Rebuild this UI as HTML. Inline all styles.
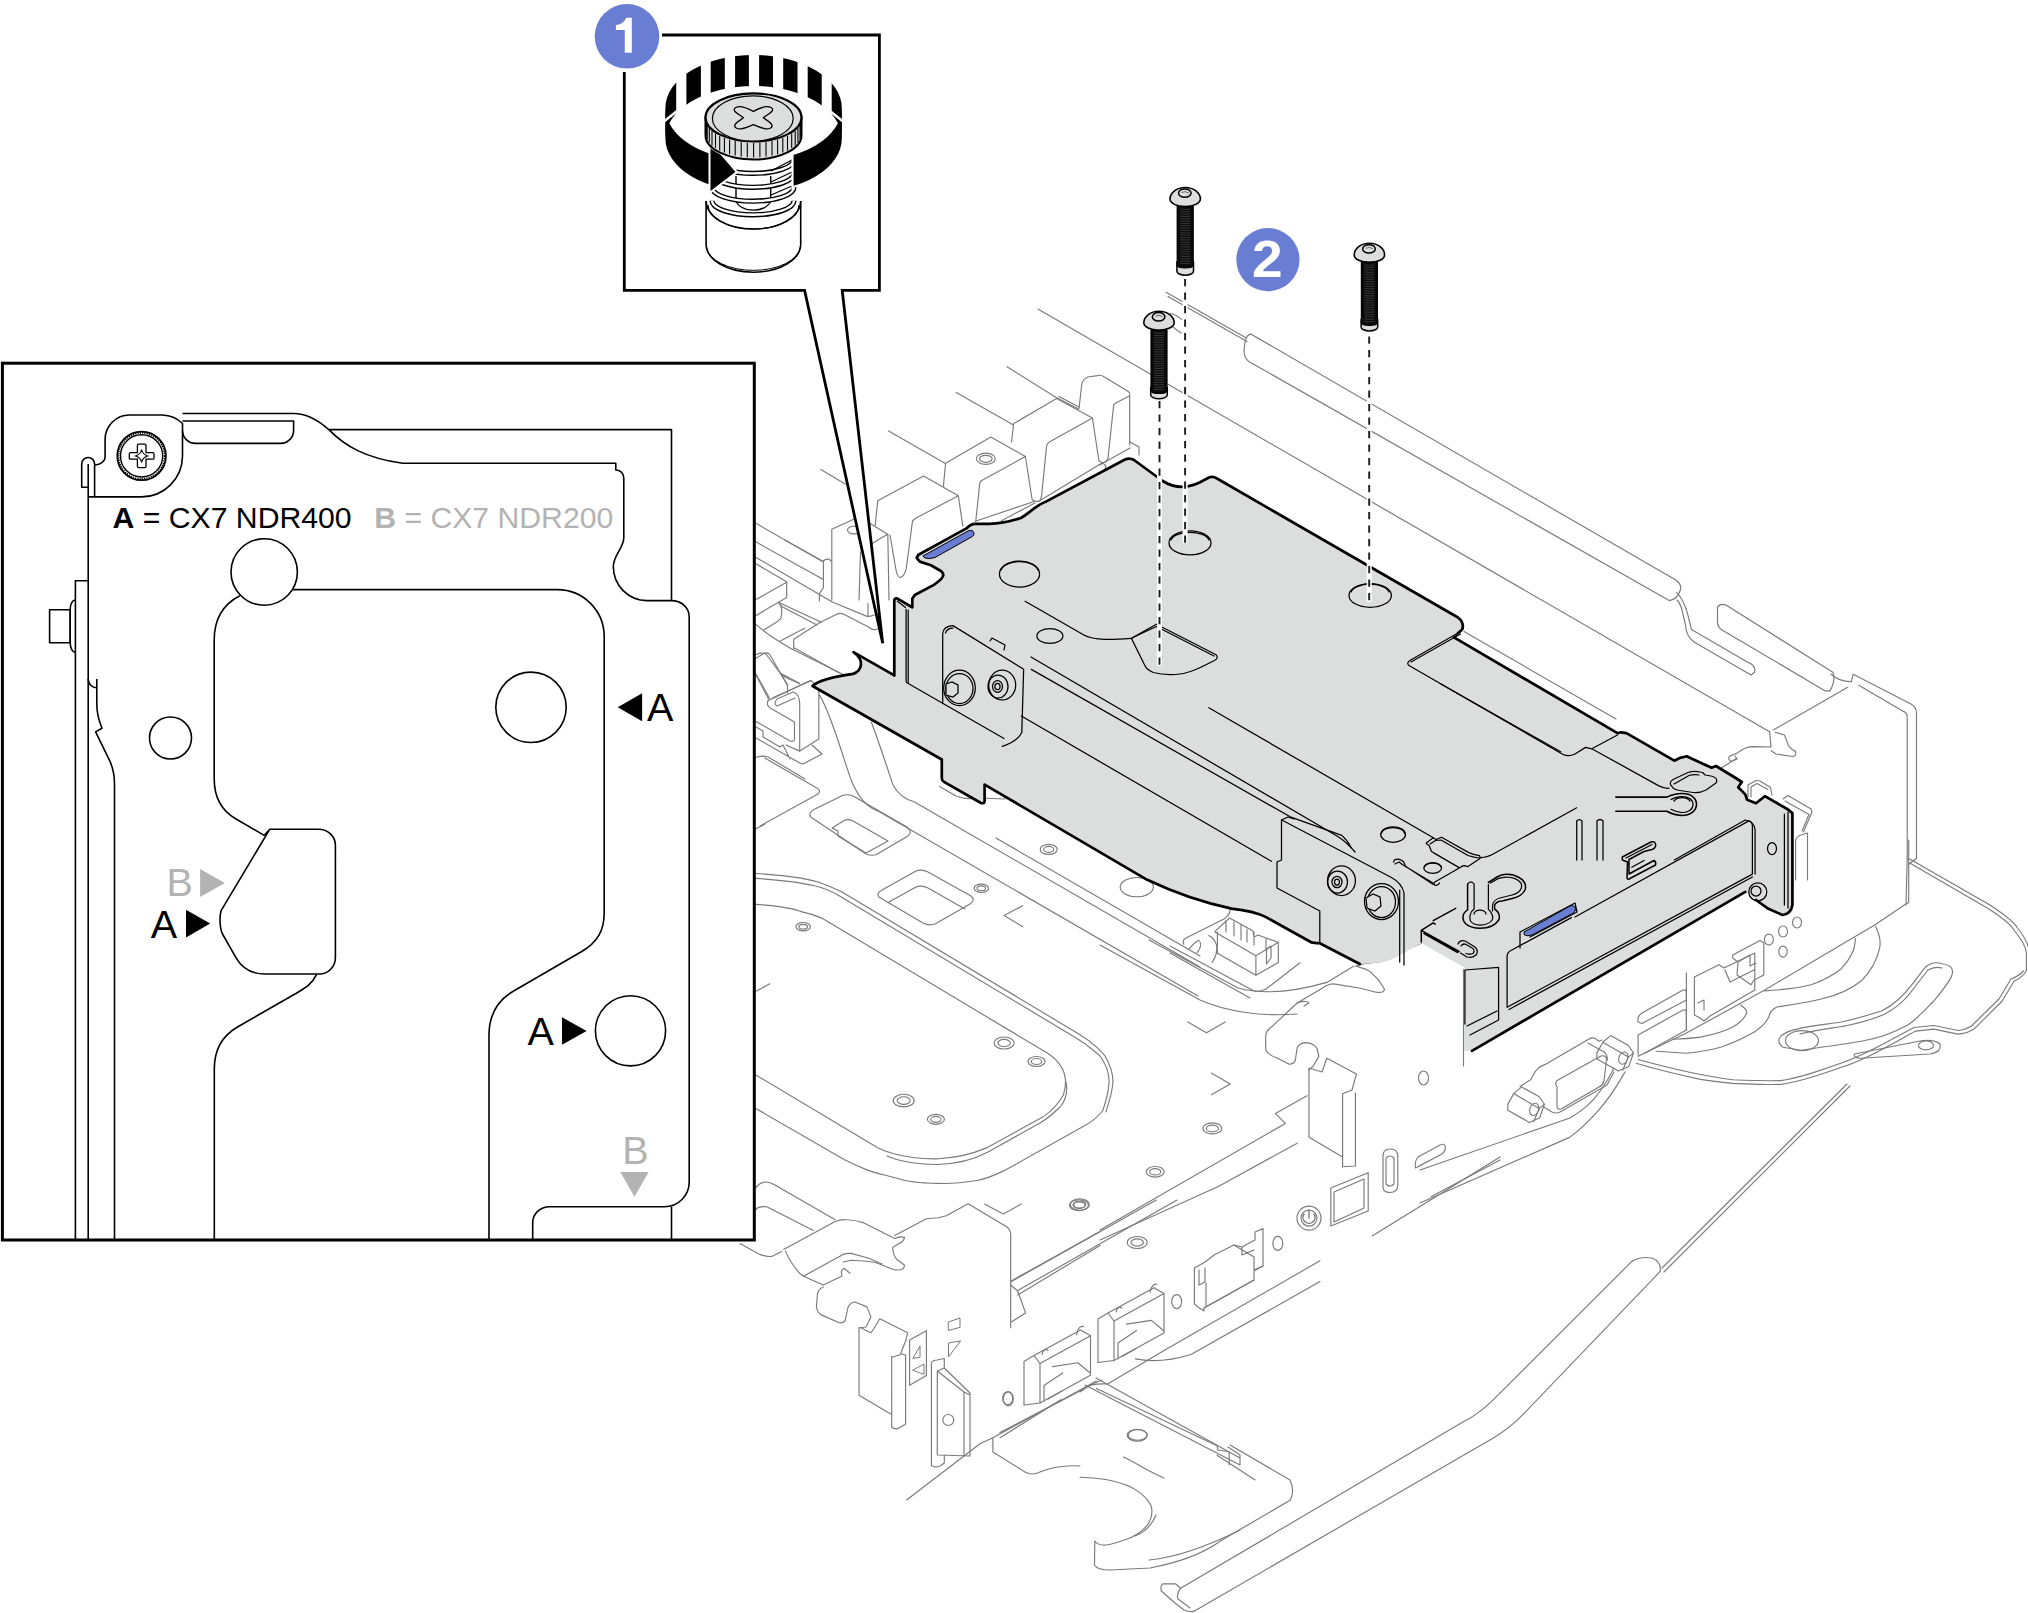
<!DOCTYPE html>
<html><head><meta charset="utf-8">
<style>
html,body{margin:0;padding:0;background:#fff;}
body{width:2028px;height:1613px;overflow:hidden;}
svg{display:block;}
text{font-family:"Liberation Sans",sans-serif;}
</style></head>
<body>
<svg width="2028" height="1613" viewBox="0 0 2028 1613" xmlns="http://www.w3.org/2000/svg">
<rect x="0" y="0" width="2028" height="1613" fill="#fff"/>
<g id="chassis" fill="none" stroke="#7a7a7a" stroke-width="1.15" stroke-linejoin="round" stroke-linecap="round">
<!-- long top lines -->
<path d="M1037.9 309.1 L1769.6 731.7"/>
<path d="M1166.1 292.3 L1246.3 337.9 M1168 296.5 L1247 341.5"/>
<path d="M1251.2 334.2 L1676.6 580.5 Q1682 585 1680.3 590 Q1678 599 1669.2 600.6 L1248.7 361.4 Q1244 358 1244 350 L1245 342 Q1247 334 1251.2 334.2"/>
<path d="M1676.6 592.4 Q1684 600 1687.8 614.7 L1691.5 629.6 L1747.3 662 Q1756 665 1754.7 672 L1751 675 L1694 642 Q1686 636 1685.5 625 L1682 610 Q1680 603 1677 600"/>
<path d="M1717.5 607.3 Q1720 603 1726 605 L1832.8 672.3 Q1836 680 1830 690.9 L1825.3 690.9 L1722 630 Q1717.5 627 1717.5 622 Z"/>
<path d="M1831 674.2 Q1840 682 1851.4 681.6 L1853.2 674.2 L1910.9 704 Q1916.5 707 1916.5 713.3 V858.3"/>
<path d="M1858.8 685.3 L1903.5 711.4 Q1907.2 713 1907.2 717 V858.3"/>
<path d="M1773.3 730 L1847.7 687.2"/>
<path d="M1769.6 731.7 L1771 747 L1751.8 746.6 Q1745 747 1736.8 753.4 L1730 756 Q1727 759 1731 761.5 L1737 759 L1735 756"/><path d="M1775 732.3 L1784.5 735 L1788.6 745.9 Q1792 750 1795.5 751.4 Q1796.5 756 1792.7 756.5 L1776 754 L1771 750.7"/><path d="M1721.8 767.7 L1736.8 758.2"/>
<path d="M1748 797 V785 L1756 780.5 L1760 781 L1770.5 787.5 L1772 795 M1751 797 V787 L1757 783.5 L1768 789.5"/>
<path d="M1783 799 L1788 795.5 L1811 809 L1812 812 L1803.5 832 M1785 801 L1809 814.5 L1802 831 M1795.6 880 V840 Q1797 836 1801 835 L1807.5 833 V880"/>
<!-- block / DIMM area top-left -->
<path d="M888.6 430.9 L945 463.2"/>
<path d="M820.9 469.6 L845.1 484.1"/>
<!-- blocks (rewritten) -->
<path d="M956.2 392.4 L1013.1 424.7 M1007 366.7 L1057.8 398.5 M1058.3 398.5 L1078.4 409.1 M1059 396.5 L1079 407"/>
<!-- B5 -->
<path d="M1079 408.5 L1081.8 384 Q1083 379 1088 377 L1097.4 375.6 Q1101 374.5 1104 376.7 L1128.6 391.8 Q1130.5 393.5 1129.7 395.7 L1115.8 403 Q1113.8 404 1113.6 405.7 L1108 458.2 Q1106 463 1102.4 462.7 L1099 461 L1092.4 418 M1129.7 395.7 V444.8"/>
<!-- B4 -->
<path d="M1013.7 423.6 L1056.6 398.5 L1092.4 418 L1049.4 442 Q1047 443.5 1046.6 445.9 L1041.6 495.6 Q1040.5 501 1038.8 501.2 Q1036 501.5 1034.9 501.3 L1032.1 499.5 L1025.4 456.5 M1013.7 423.6 L1011.5 442"/>
<!-- B3 -->
<path d="M945.6 463.2 L990.8 437 L1025.4 456.5 L981.3 480.8 Q979.9 482 979.7 483.9 L975.7 521.8 M945.6 463.2 L943.4 486.1"/>
<ellipse cx="985.8" cy="458.8" rx="9.5" ry="5.6"/><ellipse cx="985.8" cy="458.8" rx="6.3" ry="3.5"/>
<!-- B2 -->
<path d="M877.7 500.7 L923.6 475.9 L958.3 495.7 L916.1 518.1 Q912.8 520 912.4 521.8 L906.2 568.9 Q904 577 900 577.6 Q897 576 896 570 L890 535 M877.7 500.7 L875.2 525.5 M958.3 495.7 L962.8 526"/>
<!-- B1 -->
<path d="M831.8 529.2 L859.1 516.8 L887.6 534.2 L862.8 549.1 Q861 550.5 860.5 553 L859 600 M831.8 529.2 V600.2 M887.8 534.1 L889 600"/>
<ellipse cx="854" cy="530" rx="6.5" ry="3.8"/>
<!-- base strip under blocks -->
<path d="M976 521 L1034.9 501.3 M1038.8 501.2 L1102.4 462.7 M1035 503 L1001.4 520.7 M1099.6 464.9 L1130 448"/>
<path d="M1130 442 L1139 447 V455 M1102.4 462.7 L1106 466 L1104 472"/>
<!-- rails left of blocks (rewritten) -->
<path d="M756.4 523.6 L822.5 561.5"/>
<path d="M756 542 L822.9 579.2"/>
<path d="M784.7 540 L822.9 561.3 Q826 558.5 829.4 559.3 L831.3 561.3 M823.4 561.3 V587.6 L819.4 593.6 V601"/>
<path d="M756 557.4 L832.3 602 L867 616.4 Q871 616.5 874 614.9 M868 603.5 V616.4"/>
<path d="M756 563.8 L786.7 581.7 V597.5 L756 615.4 M756 599.5 L786.7 582.2"/>
<path d="M778.8 602.5 L821.4 622.3 M780.8 606 L816.5 624.8"/>
<path d="M778.8 603 Q782 606 781.7 609.4 Q782 615 780.8 618.4 Q778 621.5 774.8 623.3 L763.9 629.8"/>
<path d="M779.8 641.2 L804.6 628.3 M793.7 639.2 L820.4 622.3 L837.3 613.9 Q840 612.8 843.3 613.9 L869 627.3 Q872 630 875 629.8 L882 627.3 M793.7 639.2 V649.1 M794.5 648 L839.3 672.9"/>
<path d="M756 624.3 C760 628 765 632 769.8 635.2 C778 641 785 645 791.7 649.1 L842.3 673.9"/>
<path d="M756 658 L764.9 653.1 Q768 652 770 655 L787.7 685.8 M756 674 L769.8 698.7 M781.7 675 C788 679 794 681 799.6 683.8 M772.8 697.7 L811.5 680.4"/>
<!-- left clip and curves -->
<path d="M756 654.5 Q762 652 766 654 L780 673 L787.5 684.5 V693 M756 675 L768.5 699 M780 673 L799 683"/>
<path d="M768 700.8 Q766 706 771 708.5 L794.5 722 V740 Q793 742 790 741 L756 721.5"/>
<path d="M768 700.8 L809 681 Q813 679.5 818.8 691 V739 L799.7 751.1 V703 Q799 693.5 793 692 L777 699 Q773 704 777 706 L795 698"/>
<path d="M756 727 L763 731 V737 L780 747 L783 745 L790 759 M756 738 L799.7 763 L803 764 L822 754 L812 745 M786 745 L799.7 751.1"/>
<path d="M756 757.5 Q762 755 768 757 L805 779"/>
<path d="M764.8 758.1 L815 787 Q822 790 818 794 L760 826 M756.1 828.8 L765 824"/>
<path d="M819.4 694.9 C832 715 845 765 852 782 Q862 806 878.9 811.4 L1198 996"/>
<path d="M871.4 722.2 C880 745 888 770 893 785 Q900 798 913.6 801.5 L1200 967"/>
<path d="M996 838 L1200 956"/>
<path d="M939.6 786.6 L956 796 Q966 800 978 798 L1005.3 799"/>
<!-- rounded rects in middle-left -->
<path d="M810.7 817 Q808 812 815 809 L843 795.3 Q848 794 853 796 L907 827 Q913 832 908 836 L876 854.8 Q871 856 866 854 Z"/>
<path d="M832 828 L845 820 Q849 819 853 821 L888 841 L866 853 M832 828 L838 831 V836 L866 853"/>
<path d="M878.9 897 Q876 893 882 890 L916 871 Q922 869 928 872 L971 896 Q976 900 970 904 L935 924 Q929 926 923 923 Z"/>
<path d="M889 902 L916 887 Q922 885 928 888 L965 909"/>
<!-- big stadium panel -->
<path d="M756.1 878.4 C780 880 800 882 814.4 885.8 Q828 889 839.2 895.7 L1075.3 1037.5 C1090 1046 1101 1057 1101 1057.2 C1108 1068 1110 1076 1108.8 1084.8 C1108 1097 1104 1106 1102.9 1110.5 Q1096 1119 1087.1 1124.3 L1006.3 1169.6 C995 1175 987 1179 976.7 1180.5 C962 1183 950 1184 937.2 1183.4 C920 1183 905 1181 897.8 1178.5 C885 1175 875 1173 866.2 1169.6 Q855 1165 844.5 1159.8 L755.8 1108.5"/>
<path d="M756.1 873.5 C782 875 804 878 818 882 Q830 886 842 892 L1078 1033.5 C1094 1043 1104 1054 1105 1056 C1112 1068 1114 1077 1112.5 1086 C1111 1098 1107 1107 1106 1112"/>
<path d="M756.1 904.4 C780 906 795 909 802 911.9 Q812 914 821.8 918.1 L1047.7 1053.3 C1058 1060 1064 1068 1065.4 1078.9 C1066 1086 1065 1090 1063.5 1094.7 Q1056 1108 1043.7 1116.4 L986.5 1147.9 C970 1155 955 1158 937.2 1158.8 C920 1159 905 1157 893.8 1153.8 Q885 1151 878.1 1147.9 L755.8 1075"/>
<path d="M1066 1082 C1068 1092 1066 1100 1060 1107 Q1050 1117 1040 1123 L988 1152 C975 1159 957 1164 937 1164.5 C915 1164 898 1161 887 1156"/>
<ellipse cx="803.2" cy="926.7" rx="7.2" ry="4.2"/><ellipse cx="803.2" cy="926.7" rx="4.3" ry="2.4"/>
<ellipse cx="981.3" cy="888.3" rx="7.2" ry="4.2"/><ellipse cx="981.3" cy="888.3" rx="4.3" ry="2.4"/>
<ellipse cx="1048.7" cy="849.4" rx="8.5" ry="5"/><ellipse cx="1048.7" cy="849.4" rx="5" ry="3"/>
<ellipse cx="1004.1" cy="1043" rx="10" ry="6"/><ellipse cx="1004.1" cy="1043" rx="6.3" ry="3.7"/>
<ellipse cx="1036.5" cy="1061.5" rx="8.5" ry="5"/><ellipse cx="1036.5" cy="1061.5" rx="5.2" ry="3"/>
<ellipse cx="903.7" cy="1100.6" rx="10.5" ry="6.3"/><ellipse cx="903.7" cy="1100.6" rx="6.5" ry="3.8"/>
<ellipse cx="935.9" cy="1119.3" rx="8.5" ry="5"/><ellipse cx="935.9" cy="1119.3" rx="5.2" ry="3"/>
<ellipse cx="1079.8" cy="1204.5" rx="9.5" ry="5.8"/><ellipse cx="1079.8" cy="1204.5" rx="6" ry="3.5"/>
<ellipse cx="1136.8" cy="887.1" rx="16.6" ry="9.6"/>
<path d="M1022.7 905.7 L1004.1 915.6 L1022.7 926.7"/>
<path d="M984.6 1204.1 L1003.3 1214 L1021.1 1204.1"/>
<path d="M756.1 991.2 L769.8 983.8"/>

<!-- ===== lower-middle: U curves, wall, clip ===== -->
<path d="M1100 945 L1200 1000 C1225 1011 1260 1017 1297 1014"/>
<path d="M1149 940 L1238 988 C1260 994 1290 993 1326.8 982.4 L1354 966"/>
<path d="M1297.2 1003 C1303 1000 1309 1002 1309 1003.1 L1304 1006 M1297.2 1003 L1326.8 985.4 Q1332 983 1336.7 984.4 L1360.4 988.3 L1376.1 992.3 Q1386 993 1384 988.3 L1378 979.4 L1370.2 971.6 Q1365 968 1360.4 967.6 L1356 966"/>
<path d="M1356 966 L1364.3 963.7 L1380 961.7 L1421.4 943.2"/>
<path d="M1463.5 969.6 V1066"/>
<path d="M1297.2 1003 L1271.6 1026.8 Q1265.7 1031 1265.7 1036.6 V1048.5 Q1266 1054 1277.5 1058.3 L1289.3 1064.3 Q1294 1064 1295.3 1060.3 L1297.2 1047.5 Q1300 1043 1305.1 1042.6 Q1314 1043 1317 1048.5 L1318.9 1056.4 L1313 1066.2 L1309 1070.2"/>
<path d="M1309 1068 V1137.2 L1342.6 1157 M1326.8 1058.3 L1356.4 1074.1 L1352 1090 L1342.6 1093.8 V1166.8 L1355.4 1166 V1093 M1326.8 1058.3 L1322 1072 L1309 1068"/>
<path d="M1100 1230 L1285.4 1123.4 L1275.5 1113.6 L1307 1095.8"/>
<path d="M1100 1240 L1218.3 1186.5 L1297.2 1143.2"/>
<path d="M1372.2 1235.9 L1500 1157"/>
<path d="M1431.4 1196.4 L1500 1160"/>
<path d="M1187.8 1021.9 L1206.5 1032.7 L1225.2 1021.9"/>
<path d="M1211.4 1073.1 L1230.2 1084 L1211.4 1094.8"/>
<ellipse cx="1212.4" cy="1128.4" rx="9.5" ry="5.5"/><ellipse cx="1212.4" cy="1128.4" rx="6" ry="3.3"/>
<ellipse cx="1155.2" cy="1171.8" rx="9" ry="5.3"/><ellipse cx="1155.2" cy="1171.8" rx="5.6" ry="3.2"/>
<ellipse cx="1423.5" cy="1078" rx="5" ry="7"/>
<circle cx="1309" cy="1218.1" r="12"/><circle cx="1309" cy="1218.1" r="8"/>
<path d="M1304 1214 A6 6 0 1 0 1314 1214 M1309 1210 V1218" stroke-width="1.4"/>
<path d="M1330.8 1226 V1188 L1368.2 1172.7 V1211 Z M1334 1222 V1192 L1364 1179 V1208 Z"/>
<path d="M1383 1187 V1156 Q1383 1149 1390 1149 Q1397.8 1149 1397.8 1156 V1185 Q1397.8 1192.5 1390 1192.5 Q1383 1192.5 1383 1187 Z M1386 1184 V1158 Q1390 1154 1394 1158 V1184 Q1390 1188 1386 1184 Z"/>
<path d="M1415.6 1168 L1442 1154 Q1446 1151 1445.2 1146 Q1444 1143 1440 1145 L1418 1157 Q1414 1162 1415.6 1168 Z M1419 1166 L1440 1155"/>
<!-- ===== bottom rail / handle ===== -->
<path d="M1631.8 1261.4 Q1640 1256 1652 1258 Q1662 1262 1660 1271.7"/>
<path d="M1631.8 1261.4 L1494.2 1398.9 C1485 1408 1475 1416 1464.6 1421.1 L1180.6 1588.3"/>
<path d="M1660 1271.7 L1523.8 1413.7 C1515 1423 1505 1431 1494.2 1437.4 L1195.4 1610.5"/>
<path d="M1180.6 1588.3 L1175.5 1583.8 L1162.8 1583.8 Q1160 1586 1161.4 1591 L1175 1603 L1184 1610 Q1192 1613 1195.4 1610.5 M1180.6 1588.3 Q1176 1594 1178 1599 Q1185 1604 1190 1608"/>
<path d="M1662 1268 L1847 1084 M1664 1272 L1850 1086"/>
<!-- horseshoe piece -->
<path d="M1080 1477.3 C1110 1478 1140 1485 1151 1505.4 C1155 1520 1145 1533 1124.4 1540 C1110 1545 1100 1548 1094.8 1541 L1094.5 1565 Q1097 1570 1110 1570 L1150 1568 C1175 1563 1200 1556 1222 1540 L1290.5 1500 Q1295 1490 1290 1480 L1230 1445"/>
<path d="M1123.5 1457 C1135 1462 1145 1470 1164 1478 M1135 1536 C1145 1532 1152 1525 1156 1515"/>
<path d="M1149 1560 C1180 1557 1210 1545 1240 1530"/>
<path d="M1085 1385 L1240 1465 L1240 1455 L1228 1447 M1096 1378 L1240 1458"/>
<ellipse cx="1137.6" cy="1435" rx="9.5" ry="5.3"/>
<path d="M1080 1392 L1090 1385 L1102 1380"/>
<!-- ===== swoosh handle right ===== -->
<path d="M1909.7 863.1 L1988.1 908.4 C2003 918 2012 926 2014.3 930.5 C2022 940 2026 948 2026.4 952.7 L2026.4 970.8 Q2022 978 2014.3 980.8 L2002.2 1001 L1974 1029.1 Q1966 1034 1958 1034.1 L1933.8 1029.1 L1915.7 1031.1 C1890 1045 1865 1060 1841.3 1067.3 C1820 1075 1800 1082 1781 1084.4 C1765 1085 1750 1084 1732.7 1083.4 C1720 1082 1710 1081 1700.5 1079.4 C1680 1075 1655 1069 1636.1 1063.3"/>
<path d="M1909.7 859 L1990 905 C2005 915 2015 923 2017.5 928 C2025.5 938 2029 947 2029 952"/>
<path d="M2023.5 971 Q2019 976 2011 979 L1999 999 L1971.5 1026 Q1965 1030 1958 1030.5 L1934 1025.5 L1914 1027.5 C1888 1041 1864 1056 1840 1063.5 C1819 1071 1800 1078 1781 1080.6 C1765 1081 1750 1080.5 1733 1079.8 C1710 1077 1680 1071 1638 1059.5"/>
<path d="M1783 1047.2 Q1776 1042 1781 1036 C1786 1032 1792 1030 1797 1029.1 C1815 1025 1830 1024 1841.3 1022 C1860 1018 1872 1014 1881.5 1011 C1897 1003 1905 994 1911.7 984.8 L1925.8 966.7 C1932 962 1937 962 1941.9 963.7 C1950 965 1954 968 1952 975 C1950 982 1940 993 1933.8 1001 C1925 1010 1917 1019 1907.7 1025.1 C1890 1035 1875 1039 1861.4 1041.2 C1845 1044 1830 1046 1821.2 1047.2 L1801 1050.2 Z"/>
<path d="M1800 1034 C1820 1029 1835 1028 1845 1026 C1864 1022 1876 1018 1885 1014 C1900 1006 1908 997 1914 988 L1928 970 C1933 967 1938 967 1942 968"/>
<ellipse cx="1802" cy="1040.6" rx="16.5" ry="10"/>
<path d="M1854.4 1054 L1920 1041 Q1934 1039 1940 1044 Q1942 1052 1930 1054 L1860 1058.3 Q1853 1058 1854.4 1054 Z"/>
<ellipse cx="1926" cy="1045.4" rx="7.5" ry="4.5"/>
<path d="M1875.5 926.5 C1880 935 1881 942 1879.5 948.6 C1877 960 1870 972 1861.4 980.8 C1850 990 1835 996 1821.2 999 C1805 1003 1790 1005 1777 1007 Q1770 1010 1768.9 1017 C1765 1025 1757 1031 1748.7 1035.1 C1738 1041 1730 1044 1720.6 1047.2 C1710 1050 1698 1052 1686.4 1053.2 L1656.2 1051.2"/>
<path d="M1855.4 938.6 C1855 943 1854.5 947 1853.4 950.6 C1850 958 1846 964 1841.3 968.7 C1832 976 1822 981 1811.1 984.8 C1795 989 1780 990 1764.8 990.9"/>
<path d="M1740.7 1005 C1745 1008 1747 1010 1746.7 1013 C1744 1020 1738 1024 1732.7 1027.1 C1722 1033 1712 1035 1700.5 1037.1 C1690 1038.5 1680 1039 1672.3 1039.2"/>
<path d="M1908.7 840 V902.4 L1903.6 905.4 L1875.5 924.5 L1764.8 989.9 L1686.4 1033.1 L1638.1 1056.3"/>
<ellipse cx="1797" cy="922.5" rx="4.5" ry="5.5"/>
<ellipse cx="1783" cy="931.5" rx="4.5" ry="5.5"/>
<ellipse cx="1768.9" cy="939.6" rx="4.5" ry="5.5"/>
<ellipse cx="1783" cy="951.6" rx="4.2" ry="5.5"/>
<path d="M1732.7 955 L1760 940.6 L1763.8 943 V975 L1754 980 L1751 984.8 L1737 975 L1738 962 L1732.7 958 Z M1738 962 L1750 955 V966 L1756 963"/>
<path d="M1694.4 1015 V977 L1719 964.7 L1724 968 L1754.8 953 V990 L1710 1016 L1704 1021 L1700 1018 Z M1698 1003 L1704 1000 V1010 M1725 970 L1730 982 L1754 970"/>
<path d="M1638.1 1022 Q1637 1016 1642 1013 L1683 990 Q1686.4 989 1686.4 993 V1000 L1642 1023.5 Z"/>
<path d="M1638.1 1055 V1035 L1683 1010 Q1686.4 1009 1686.4 1013 V1030 L1645 1053"/>
<path d="M1686.4 972.8 L1686.4 1030"/>
<path d="M1909 864 L1916.5 858.3 M1907.2 858.3 L1906 905"/>

<!-- ===== lower-left: brackets and straps ===== -->
<path d="M755.9 1187.9 Q758 1183 765.8 1182 Q770 1182 775 1185 L835.2 1219.7"/>
<path d="M755.9 1209.7 Q758 1206 766.8 1206.8 L813.4 1230.6"/>
<path d="M740 1243.5 L759.8 1254.4 Q766 1257 771.7 1256.4 L781.7 1251.4"/>
<path d="M783.6 1249.4 L835.2 1221.6 Q841 1219 847.1 1219.7 Q856 1220 863 1222.6 L894.7 1238.5 Q900 1236 904.6 1237.5 Q903 1243 898 1244 L892.7 1247.4 Q893 1255 896.7 1259.3 L904.6 1265.3 Q904 1270 898 1270 Q894 1270 892.7 1269.3 L882.8 1265.3 Q876 1262 867 1261.3 L851.1 1260.3 L843.1 1262"/>
<path d="M785.6 1251.4 Q790 1262 799.5 1273.2 L803.5 1276.2 L843.1 1254.4 Q847 1253 851.1 1253.4 L868.9 1258.3 L882 1264"/>
<path d="M803.5 1276.2 L823.3 1285.1 L842.1 1276 Q840 1270 844 1268.3 L850.1 1273.2"/>
<path d="M894.7 1235.5 L926.4 1218.7 L938.3 1217.7 L946.3 1215.7 L968.1 1203.8 L1007 1227 Q1010.7 1230 1010.7 1235 V1327.8"/>
<path d="M823.3 1287.1 Q817 1290 817.3 1296 L816.4 1307 Q817 1312 821.3 1314.9 L839.2 1322.8 Q844 1323 845.1 1320.8 L848.1 1307 Q851 1302 855 1302 L866.9 1306.9 L870.9 1316.9 L866 1327 L859 1327.8"/>
<path d="M859 1327.8 V1395.2 L890.7 1414 M861 1328 L870.9 1332.7 L873 1330 L879.8 1318.8 L907.6 1332.7 L906 1340 L902 1350 L900.7 1354.5 L893 1357 L891.7 1356.5 V1427 Q895 1430 899 1428 L905.6 1424 V1355 L902 1354"/>
<path d="M909.6 1385.3 V1340 L926.4 1330.7 V1375.6 Z"/>
<path d="M913 1358 L920 1346 L920 1357 Z M913 1370 L924 1364 L924 1374 Z" stroke-width="1"/>
<path d="M931.4 1465.6 V1363 Q933 1360 937 1360 L944.3 1358.5 V1368 L937.3 1371 V1455 L970 1456 V1395 L964 1392 L937.3 1371 M944.3 1368 L970 1393 V1456 M964 1392 V1455"/>
<path d="M931.4 1465.6 Q935 1468 940 1466 L944.3 1463 V1455"/>
<circle cx="948.3" cy="1420" r="5.5"/>
<path d="M948.3 1330 V1322 L960 1318 V1327 Z M948.5 1356.5 L948.5 1343 L960.2 1341 Z" stroke-width="1"/>
<path d="M1010.7 1281.2 L1100 1231.6"/>
<path d="M1017.7 1295 L1100 1245.4"/>
<path d="M1010.7 1285 L1017.7 1291 L1025.6 1312.9 L1011.7 1321.8"/>
<path d="M1011.3 1281.6 L1156.3 1200 M1018.2 1290.3 L1177 1200"/>
<path d="M1000 1432.6 L1083.3 1389.2 Q1090 1383 1107.6 1384 L1163.2 1351 L1320 1260.8"/>
<path d="M1135.4 1358.9 Q1160 1364 1191 1354.5 L1320 1281.6"/>
<path d="M1000 1437.8 L1060.8 1399.7"/>
<path d="M1096.4 1388.4 L1217 1445.7 L1217.9 1450 L1229.2 1451.7 V1464.8 M1217 1455.2 L1255.2 1480"/>
<path d="M906.6 1500 L980 1443.8 L992.9 1437.8 L1096.4 1381"/>
<path d="M992.9 1437.8 V1452 L1025 1472 Q1032 1476 1040 1472 C1050 1468 1065 1465 1080 1466"/>
<ellipse cx="1079" cy="1205.2" rx="9.5" ry="5.5"/><ellipse cx="1079" cy="1205.2" rx="6" ry="3.3"/>
<ellipse cx="1137.2" cy="1242.5" rx="10" ry="6"/><ellipse cx="1137.2" cy="1242.5" rx="6.2" ry="3.6"/>
<ellipse cx="1277.8" cy="1243.4" rx="5" ry="7"/>
<ellipse cx="1176.7" cy="1301.6" rx="5" ry="7"/>
<ellipse cx="1008.3" cy="1398.8" rx="5" ry="7"/>
<ellipse cx="1137.2" cy="1435.2" rx="10" ry="6"/>
<ellipse cx="1007.7" cy="1398.2" rx="5" ry="6.5"/>
<path d="M1040.0 1403.0 V1363.5 L1090.5 1335.7 V1375.2 Z"/><path d="M1024.0 1405.0 V1361.5 L1034.0 1355.5 L1040.0 1363.5 M1034.0 1355.5 L1080.5 1329.9 L1090.5 1335.7"/><path d="M1042.0 1354.5 Q1044.0 1347.5 1048.0 1350.5 M1076.5 1334.4 Q1078.5 1325.3 1083.5 1326.6"/><path d="M1044.0 1401.0 V1385.5 L1062.7 1373.0 M1052.6 1366.6 L1077.9 1362.7 L1090.5 1373.2"/><path d="M1040.0 1403.0 L1024.0 1405.0 M1048.0 1399.0 L1062.0 1391.0"/>
<path d="M1114.0 1360.5 V1321.0 L1164.0 1293.5 V1333.0 Z"/><path d="M1098.0 1362.5 V1319.0 L1108.0 1313.0 L1114.0 1321.0 M1108.0 1313.0 L1154.0 1287.7 L1164.0 1293.5"/><path d="M1116.0 1312.0 Q1118.0 1305.0 1122.0 1308.0 M1150.0 1292.2 Q1152.0 1283.1 1157.0 1284.3"/><path d="M1118.0 1358.5 V1343.0 L1136.5 1330.6 M1126.5 1324.1 L1151.5 1320.4 L1164.0 1331.0"/><path d="M1114.0 1360.5 L1098.0 1362.5 M1122.0 1356.5 L1136.0 1348.5"/>

<path d="M1194.4 1304 V1268 L1206 1261.5 L1214 1255 L1228 1248 L1234 1245 L1242 1247 L1255 1240 V1232 L1263 1228.6 V1266 L1254 1271 V1280 L1204 1308 V1311 L1198 1307 Z"/>
<path d="M1199 1270 V1285 L1205 1282 V1268 M1206 1283 V1306 M1204 1308 L1254 1280 M1234 1245 L1254 1257 V1270 L1263 1266 M1242 1247 L1242 1255 L1254 1250"/>

<!-- VGA -->
<path d="M1520 1086.5 L1531 1079.4 C1534 1074 1535 1071 1537.3 1069.2 Q1540 1066 1545.2 1064.4 L1588.6 1039.2 Q1592 1037 1595 1038.4 L1598.9 1041.2 L1602 1040"/>
<path d="M1543.6 1107 L1552 1112 Q1556 1114 1560 1112 L1607 1085 L1614 1072"/>
<path d="M1557 1087 Q1554 1082 1558 1080 L1601 1056 Q1606 1055 1606.6 1059 L1604 1081 Q1603 1085 1599 1087 L1561 1109 Q1557 1110 1557 1106 Z"/>
<path d="M1588 1043 L1604 1052 Q1607 1054 1607.6 1060"/>
<path d="M1625 1071.9 C1615 1090 1605 1103 1599.2 1109.6 C1590 1120 1580 1130 1569.4 1137.4 L1420 1203"/><path d="M1614 1068 C1606 1084 1596 1098 1587.3 1105.6 Q1580 1112 1570 1118 L1420 1170"/>
<path d="M1513.7 1093.6 L1521.6 1086.9 L1539.3 1096.8 L1544.4 1104.3 L1539.7 1117.7 L1529.4 1122.4 L1507.8 1110.2 L1507.8 1104.4 Z"/><path d="M1513.7 1093.6 L1539.3 1108.4 L1544.4 1104.3 M1539.3 1108.4 L1533.7 1121.4"/><ellipse cx="1534.2" cy="1109.4" rx="4.4" ry="6.3" transform="rotate(20 1534.2 1109.4)"/>
<path d="M1602.8 1042.3 L1610.7 1035.6 L1628.4 1045.5 L1633.5 1053.0 L1628.8 1066.4 L1618.5 1071.1 L1596.9 1058.9 L1596.9 1053.1 Z"/><path d="M1602.8 1042.3 L1628.4 1057.1 L1633.5 1053.0 M1628.4 1057.1 L1622.8 1070.1"/><ellipse cx="1623.3" cy="1058.1" rx="4.4" ry="6.3" transform="rotate(20 1623.3 1058.1)"/>

<!-- pin header connector below cage -->
<path d="M1214.9 932 L1255.9 955.8 V975.3 L1217.4 953.2 V932 M1255.9 955.8 L1278.3 942.3 V962.5 L1255.9 975.3"/>
<path d="M1214.9 931.4 L1229.6 918 L1253 931 L1254 937 L1258 935 L1278.3 942.3 M1254 932 L1254 945 M1266 939 L1266 950 M1241 924 V940 M1234 922 V936 M1226 921 V932 M1247 927 V942"/>
<path d="M1266.5 964 V949 L1271 946 V958 Z"/>
<path d="M1183.8 944.2 Q1182 940 1186 938 L1224 919 Q1230 915 1230 910 C1230 904 1228 901 1226 900"/>
<path d="M1189.2 948.7 C1195 942 1200 939 1199 941 M1197 952.5 Q1202 947 1200 942 M1212 962.5 Q1218 954 1216.6 945 Q1214 938 1208.7 935.6"/>
<path d="M1170 946 L1254 991 Q1260 992 1266 989 L1300 962.8 M1170 953 L1250 998"/>
<!-- chassis line in gap near top plate corner -->
<path d="M1464 631.5 L1616 719"/>

</g>
<g id="cage">
<path id="cagefill" fill="#dcdddd" stroke="none" d="M812.5 686 C820 679 838 676 853 673.9 C862 671 865 660 853.5 652.2 L894.3 675.3 L894.3 600.5 Q894.5 598.2 897 598.4 L910 606 L912.3 607.4 L912.3 598.8 L914.8 595 L933.4 585.1 C938 582 943 579 943.3 575.2 C943 572 941.5 571 939.6 570.2 L930.9 565.3 L919.8 561.6 L916.7 557.8 L918.5 554.7 L966.9 528.1 C969 525.5 972 523.8 975.5 523.8 L989.2 523.8 C1000 523.5 1010 521.5 1020.2 518.2 C1028 514.5 1035 506 1045 502.1 L1125 459.5 Q1130 457.5 1134 460 L1162.7 481 Q1180 492 1200 482.2 L1209 477.5 Q1213 476 1217 478.5 L1458 617.5 Q1464 622 1462.5 629 Q1461 631 1458 633 L1454 637.4 L1617.5 733.2 L1621 732.3 L1626.4 733.2 L1674.3 760.7 L1679.7 758 L1686.8 756.3 L1690.3 758 L1711.6 767.8 L1716 766 L1736.5 778.5 L1741.8 782 L1738.2 787.3 L1745.3 794.4 L1747.1 799.8 L1756 803.3 L1764.9 796.2 L1788 809.5 L1792.4 813.1 L1792.4 905 Q1791 914 1782.6 915 L1768.4 908.8 L1756 900 L1745.3 891.9 L1472 1050.8 L1464 1050.8 L1464 967.3 L1421.4 943.2 C1405 952 1392 961 1382.3 962.3 L1359.8 964 L1319.8 943.2 L1316.4 943.2 L1311.2 942.3 L1266 917.1 C1258 912 1250 910 1240 909.3 L1231.5 908.6 C1215 905.5 1190 898 1165 888 L1147.2 879.8 L984.6 784.6 L984.6 801 Q984.6 804 981 803 L944 781.8 Q941.8 780.5 941.8 778 L941.8 759.5 Z"/>
<!-- thick outline -->
<g fill="none" stroke="#000" stroke-width="2.7" stroke-linejoin="round" stroke-linecap="round">
<path d="M941.8 759.5 L812.5 686 C820 679 838 676 853 673.9 C862 671 865 660 853.5 652.2 L894.3 675.3"/>
<path d="M894.3 675.3 L894.3 600.5 Q894.5 598.2 897 598.4 L910 606 L912.3 607.4 L912.3 598.8 L914.8 595 L933.4 585.1 C938 582 943 579 943.3 575.2 C943 572 941.5 571 939.6 570.2 L930.9 565.3 L919.8 561.6 L916.7 557.8 L918.5 554.7 L966.9 528.1 C969 525.5 972 523.8 975.5 523.8 L989.2 523.8 C1000 523.5 1010 521.5 1020.2 518.2 C1028 514.5 1035 506 1045 502.1 L1125 459.5 Q1130 457.5 1134 460 L1162.7 481 Q1180 492 1200 482.2 L1209 477.5 Q1213 476 1217 478.5 L1458 617.5 Q1464 622 1462.5 629 Q1461 631 1458 633"/>
<path d="M1454 637.4 L1617.5 733.2 L1621 732.3 L1626.4 733.2 L1674.3 760.7 L1679.7 758 L1686.8 756.3 L1690.3 758 L1711.6 767.8 L1716 766 L1736.5 778.5 L1741.8 782 L1738.2 787.3 L1745.3 794.4 L1747.1 799.8 L1756 803.3 L1764.9 796.2 L1788 809.5 L1792.4 813.1 L1792.4 905 Q1791 914 1782.6 915 L1768.4 908.8 L1756 900"/>
<path d="M1745.3 891.9 L1472 1050.8"/>
<path d="M941.8 759.5 L941.8 778 Q941.8 780.5 944 781.8 L981 803 Q984.6 804 984.6 801 L984.6 784.6 L1147.2 879.8 C1175 893 1205 903 1231.5 908.6 C1245 910 1256 912 1266 917.1 L1311.2 942.3 L1316.4 943.2 L1319.8 943.2 L1359.8 964"/>
</g>
<!-- thin internal lines -->
<g fill="none" stroke="#000" stroke-width="1.25" stroke-linejoin="round" stroke-linecap="round">
<!-- wall inner lines -->
<path d="M906.1 609 V681.5 M908.2 610 V682.5 M897.4 601.2 L905.5 607.4"/>
<!-- top plate inner -->
<path d="M1025.1 601.2 L1083.4 634.7 C1094.5 640.9 1113.1 639.7 1131.4 638.4"/>
<path d="M1131.4 638.4 L1156.4 624.2 L1216.1 654.8 Q1219 658 1214.5 660.5 C1205 665 1195 671 1187 672.5 C1178 675.5 1163 675 1153.2 672.5 Q1147 670 1145.1 666.1 Z"/>
<path d="M1134 637 L1156.4 626.5 L1214 656"/>
<path d="M1458 633 L1410.3 660.2 Q1406 663 1409 665.5 L1563.1 754.5 Q1569 757 1575 754 L1585.6 747.4 L1592.7 749.2 L1658.4 785.6 C1663 788 1666 788.5 1669 788.2"/>
<path d="M1461 631 L1454 637.4 M1460.5 634 L1411 662"/>
<path d="M1592.7 748.3 L1617.5 735"/>
<path d="M1208.8 707.7 L1433.3 837.8"/>
<path d="M1440 683.5 L1560.7 751.8"/>
<path d="M1576.7 807.8 L1495 853 C1490 856 1485 857.5 1480.8 857.5"/>
<!-- rail lines -->
<path d="M1031 657 L1337 836 C1345 841 1350 846 1355 852"/>
<path d="M1031.3 669.4 L1290.2 816.8 L1341.8 835.4 C1346 839 1349 843 1351.5 848.3"/>
<path d="M1021.3 716 L1271.4 861.3"/>
<path d="M906.5 682.5 L1004 738.5"/>
<!-- left bracket -->
<path d="M942.7 703.5 V634 Q943 626 953 625.6 L1023.6 669.3 V671 L1021.8 732.5 C1018 740 1010 744 1002.2 746.4"/>
<path d="M945.5 633 Q947 628 953 628"/>
<path d="M990 641 L992 638 L1005 645 L1004 650"/>
<!-- front vertical plates on rail -->
<path d="M1281.5 820 V860 L1277 862 V888 L1319.8 911 V943"/>
<path d="M1281.5 820 L1288 817 L1294 819"/>
<path d="M1281.7 820 L1391 877.2 Q1402 883 1404 893 V965"/>
<path d="M1399.7 890 V962"/>
<!-- holes -->
<ellipse cx="1019.5" cy="574" rx="20.1" ry="13"/>
<path d="M1001 570 A19 11 0 0 1 1038 570"/>
<ellipse cx="1049.9" cy="636" rx="13" ry="7.4"/>
<ellipse cx="1190" cy="542.9" rx="21" ry="12"/>
<path d="M1171 540 A19.5 10 0 0 1 1209 540"/>
<ellipse cx="1370.2" cy="595.4" rx="21.2" ry="11.9"/>
<path d="M1351 592 A19.5 10 0 0 1 1389 592"/>
<ellipse cx="1393.1" cy="834.6" rx="12.4" ry="7.7"/><path d="M1381.5 833.5 A11.5 6 0 0 1 1404.5 833.5"/><ellipse cx="1432.7" cy="868" rx="8.9" ry="5.3"/><path d="M1424.3 867.3 A8.4 4.2 0 0 1 1441.1 867.3"/>
<!-- right end features -->
<path d="M1672 786.5 Q1668 783 1673 779.5 L1688 772.5 Q1694 770.5 1700 772 L1702.7 772.5 L1705 775 L1711 776 Q1719 778 1716 783 L1706 790 Q1699 793.5 1693 792.5 L1680 790.5 Q1674 790 1672 786.5 Z"/><path d="M1674 784 L1689 775.5 Q1694 774 1699 775"/>
<path d="M1615.8 797.1 H1667 C1671 795 1676 793.5 1682 793.5 C1691 793.5 1696.5 798 1696.5 804.3 C1696.5 811 1690 815.5 1682 815.5 C1676 815.5 1671 813.5 1667 811.3 H1615.8" stroke-width="1.6"/><path d="M1671 799.5 C1675 797 1678 796.5 1682 796.5 C1689 796.5 1693 800 1693 804.5 C1693 809 1689 812.5 1682 812.5 C1678 812.5 1675 811.5 1671 809.3"/><path d="M1674 801 A9 6 0 0 1 1690 801"/>
<path d="M1576.7 860 V821 Q1579.4 818 1582 821 V860 M1597 860 V821 Q1600 818 1603 821 V860"/>
<path d="M1622.3 857 L1651 842 Q1656 840.5 1655.7 846 Q1655 848.5 1652 849.5 L1644 851.5 L1629 859.5 V874 L1654 860.5 Q1656.5 862 1655.5 865 L1629 879 Q1627 880 1627 877 L1627.5 862 L1622.3 860 Z" stroke-width="1.5"/><path d="M1631.8 867.3 L1644 860.5 M1626 858 L1652 844.5"/>
<path d="M1674.3 860 L1745.3 820 Q1755 822 1755.1 830 V874"/>
<ellipse cx="1772" cy="848.6" rx="4.5" ry="6"/>
<path d="M1784.4 814 V905 M1788 812 V908"/>
<!-- front bracket panel -->
<path d="M1507.1 1007.3 V956 Q1507.5 952 1511 950.5 L1571.4 917.6 M1507.1 1007.3 L1752.4 874.1 V826 Q1752 821 1748.9 820.9 L1575 917"/>
<path d="M1509 1009.5 L1752.4 877"/>
<path d="M1464.9 1024 V970 L1498.6 967.3 V1020 L1470 1035"/>
<path d="M1467 1026 L1497 1011"/>
<!-- keyhole 2 & slot -->
<path stroke-width="1.5" d="M1467.6 884 V909.8 C1462 913 1461.5 920 1466 924 C1470 927.5 1475 928.3 1480 928.3 C1487 928.3 1495 926 1498.7 920 C1500.5 916 1498.5 911.5 1494.6 909 V905 C1496 902 1499 901 1502 900.9 L1512.3 898.5 C1519 897 1523 894 1525 890 C1527 884 1523 879.5 1519.1 877.5 C1515 875 1510.5 874 1506 874.2 C1502 874.4 1499.5 875.5 1497 877 L1488.4 882.5"/><path d="M1474.1 884 V909.1 C1470 912 1469 917 1470.5 921 C1472.5 924 1476 925 1480 925 C1485 925 1490 923.5 1492.5 919.5 C1493.5 916 1491 912 1488.4 909.1 V884.5 M1467.6 884 Q1470.8 879.5 1474.1 884 M1490.5 883 L1498 878.6 Q1502 877 1506 877 C1512 877 1518 879 1521 883 C1523 888 1520 893 1512 895 L1500 898 C1496 899 1492.5 902 1492.5 906 V911 M1474 914 A6 4 0 0 1 1486 914"/>
<path stroke-width="1.5" d="M1421.3 942 V930.3 L1433.2 922.8 L1435.2 924.1 M1421.3 930.3 L1459.1 951.5 M1424 933.5 L1457.8 952.5 M1433.2 920.7 L1455.7 908.4"/><path d="M1458 944 Q1460 939.5 1465 941 L1475 947 Q1479 951 1476 955 Q1472 958.5 1467 957 L1460.5 953 M1461 946 Q1463 943 1466 944.5 L1473 948.5 Q1475 951.5 1473 953.5 Q1469.5 955 1466 953.5"/><path d="M1426.2 843.1 L1433.3 837.8 L1436 839.5 L1438.5 838.5 L1441.5 837.2 L1468.8 852.6 C1472 854 1476 855 1479.4 855.6 Q1480.5 857 1480 858.5 L1467.6 866.8 L1465 865.6 L1462.8 865.9 L1459.3 868 L1434.4 882.2 Q1433 884.5 1436 885.5 Q1438 885 1439.5 883 M1426.2 843.1 Q1427 845 1429.1 845.5 L1431.5 851.4 L1433.3 852.6 L1458.7 867.4 M1430 844 L1435.5 840.5 L1441 840 L1468 855.5 Q1474 857.5 1479 858"/><path d="M1393.6 862 Q1394 859 1398 859.1 Q1402 859.5 1404 862.5 L1405.5 866.3 L1433.3 884.6 M1395 864 L1399 862 L1403 865 L1433 883"/>
<!-- bracket bottom-right screw -->
<circle cx="1757.8" cy="891.9" r="9"/>
<circle cx="1756" cy="891" r="5"/>
<!-- blue tabs -->
<path d="M1520 948 L1520 932 L1575 903 L1577 912 L1530 937" />
</g>
<!-- left bracket screws -->
<g fill="none" stroke="#000" stroke-width="1.25">
<ellipse cx="959.5" cy="687.9" rx="15.8" ry="17.7"/>
<ellipse cx="959.5" cy="688.5" rx="13.5" ry="15"/>
<path d="M946 684 L952 682 L958 685 L958 693 L953 697 L946 695 Z" fill="#dcdddd"/>
<ellipse cx="1002.2" cy="685.1" rx="13.5" ry="14.9"/>
<ellipse cx="998" cy="686.5" rx="10" ry="11.5"/>
<ellipse cx="997.5" cy="686.5" rx="5" ry="5.8"/>
<ellipse cx="997.5" cy="686.5" rx="2.6" ry="3.2"/>
<ellipse cx="1341.5" cy="880.7" rx="13.9" ry="14.8"/>
<ellipse cx="1337.5" cy="882" rx="10" ry="11"/>
<ellipse cx="1337" cy="882" rx="5" ry="5.6"/>
<ellipse cx="1337" cy="882" rx="2.5" ry="3"/>
<ellipse cx="1381.5" cy="901.5" rx="17" ry="18"/>
<ellipse cx="1381.5" cy="902" rx="14" ry="15.5"/>
<path d="M1366 898 L1373 894 L1380 897 L1381 906 L1375 911 L1367 908 Z" fill="#dcdddd"/>
</g>
<!-- blue tab fills -->
<path d="M922.9 556 L968 531 Q973 529 974 533 Q974.5 535.5 971.5 537 L935 557.5 Q929 559.5 925 558 Z" fill="#697ed3" stroke="#000" stroke-width="1"/>
<path d="M1524 932 L1570 906 Q1575 904.5 1575.5 909 Q1575.5 912 1572.5 913.5 L1533 934.5 Q1527 937 1524 934.5 Z" fill="#697ed3" stroke="#000" stroke-width="1"/>
</g>
<g id="screws">
<path d="M1185.1 279 V543" stroke="#fff" stroke-width="5"/><path d="M1185.1 279 V543" stroke="#1a1a1a" stroke-width="1.9" stroke-dasharray="7.3 6.2"/>
<path d="M1159.5 401 V666" stroke="#fff" stroke-width="5"/><path d="M1159.5 401 V666" stroke="#1a1a1a" stroke-width="1.9" stroke-dasharray="7.3 6.2"/>
<path d="M1369.2 336.5 V601.7" stroke="#fff" stroke-width="5"/><path d="M1369.2 336.5 V601.7" stroke="#1a1a1a" stroke-width="1.9" stroke-dasharray="7.3 6.2"/>
<path d="M1170.0 199.1 A15.2 11.6 0 0 1 1200.4 199.1 A15.2 7.5 0 0 1 1170.0 199.1 Z" fill="#dcdddd" stroke="#000" stroke-width="1.6"/>
<ellipse cx="1184.8" cy="193.1" rx="6.3" ry="4.2" fill="#dcdddd" stroke="#000" stroke-width="1.5"/>
<path d="M1181.7 192.5 Q1185.2 190.5 1188.7 193.0" fill="none" stroke="#555" stroke-width="0.9"/>
<path d="M1176.9 262.0 V271.2 A8.3 4 0 0 0 1193.5 271.2 V262.0 Z" fill="#dcdddd" stroke="#000" stroke-width="1.5"/>
<path d="M1177.2 206.6 V265.0 A8 3 0 0 0 1193.2 265.0 V206.6 Z" fill="#0a0a0a" stroke="#000" stroke-width="1.2"/>
<path d="M1180.2 209.1 Q1185.2 210.1 1190.2 209.1 M1180.2 211.4 Q1185.2 212.4 1190.2 211.4 M1180.2 213.8 Q1185.2 214.8 1190.2 213.8 M1180.2 216.1 Q1185.2 217.1 1190.2 216.1 M1180.2 218.5 Q1185.2 219.5 1190.2 218.5 M1180.2 220.8 Q1185.2 221.8 1190.2 220.8 M1180.2 223.2 Q1185.2 224.2 1190.2 223.2 M1180.2 225.5 Q1185.2 226.5 1190.2 225.5 M1180.2 227.9 Q1185.2 228.9 1190.2 227.9 M1180.2 230.2 Q1185.2 231.2 1190.2 230.2 M1180.2 232.6 Q1185.2 233.6 1190.2 232.6 M1180.2 234.9 Q1185.2 235.9 1190.2 234.9 M1180.2 237.3 Q1185.2 238.3 1190.2 237.3 M1180.2 239.6 Q1185.2 240.6 1190.2 239.6 M1180.2 242.0 Q1185.2 243.0 1190.2 242.0 M1180.2 244.3 Q1185.2 245.3 1190.2 244.3 M1180.2 246.7 Q1185.2 247.7 1190.2 246.7 M1180.2 249.0 Q1185.2 250.0 1190.2 249.0 M1180.2 251.4 Q1185.2 252.4 1190.2 251.4 M1180.2 253.7 Q1185.2 254.7 1190.2 253.7 M1180.2 256.1 Q1185.2 257.1 1190.2 256.1 M1180.2 258.4 Q1185.2 259.4 1190.2 258.4 M1180.2 260.8 Q1185.2 261.8 1190.2 260.8 M1180.2 263.1 Q1185.2 264.1 1190.2 263.1" fill="none" stroke="#555" stroke-width="0.6"/>
<path d="M1143.8 322.8 A15.2 11.6 0 0 1 1174.2 322.8 A15.2 7.5 0 0 1 1143.8 322.8 Z" fill="#dcdddd" stroke="#000" stroke-width="1.6"/>
<ellipse cx="1158.6" cy="316.8" rx="6.3" ry="4.2" fill="#dcdddd" stroke="#000" stroke-width="1.5"/>
<path d="M1155.5 316.2 Q1159.0 314.2 1162.5 316.7" fill="none" stroke="#555" stroke-width="0.9"/>
<path d="M1150.7 387.4 V394.8 A8.3 4 0 0 0 1167.3 394.8 V387.4 Z" fill="#dcdddd" stroke="#000" stroke-width="1.5"/>
<path d="M1151.0 330.3 V390.4 A8 3 0 0 0 1167.0 390.4 V330.3 Z" fill="#0a0a0a" stroke="#000" stroke-width="1.2"/>
<path d="M1154.0 332.8 Q1159.0 333.8 1164.0 332.8 M1154.0 335.2 Q1159.0 336.2 1164.0 335.2 M1154.0 337.5 Q1159.0 338.5 1164.0 337.5 M1154.0 339.9 Q1159.0 340.9 1164.0 339.9 M1154.0 342.2 Q1159.0 343.2 1164.0 342.2 M1154.0 344.6 Q1159.0 345.6 1164.0 344.6 M1154.0 346.9 Q1159.0 347.9 1164.0 346.9 M1154.0 349.3 Q1159.0 350.3 1164.0 349.3 M1154.0 351.6 Q1159.0 352.6 1164.0 351.6 M1154.0 354.0 Q1159.0 355.0 1164.0 354.0 M1154.0 356.3 Q1159.0 357.3 1164.0 356.3 M1154.0 358.7 Q1159.0 359.7 1164.0 358.7 M1154.0 361.0 Q1159.0 362.0 1164.0 361.0 M1154.0 363.4 Q1159.0 364.4 1164.0 363.4 M1154.0 365.7 Q1159.0 366.7 1164.0 365.7 M1154.0 368.1 Q1159.0 369.1 1164.0 368.1 M1154.0 370.4 Q1159.0 371.4 1164.0 370.4 M1154.0 372.8 Q1159.0 373.8 1164.0 372.8 M1154.0 375.1 Q1159.0 376.1 1164.0 375.1 M1154.0 377.5 Q1159.0 378.5 1164.0 377.5 M1154.0 379.8 Q1159.0 380.8 1164.0 379.8 M1154.0 382.2 Q1159.0 383.2 1164.0 382.2 M1154.0 384.5 Q1159.0 385.5 1164.0 384.5 M1154.0 386.9 Q1159.0 387.9 1164.0 386.9 M1154.0 389.2 Q1159.0 390.2 1164.0 389.2" fill="none" stroke="#555" stroke-width="0.6"/>
<path d="M1354.2 254.9 A15.2 11.6 0 0 1 1384.6 254.9 A15.2 7.5 0 0 1 1354.2 254.9 Z" fill="#dcdddd" stroke="#000" stroke-width="1.6"/>
<ellipse cx="1369.0" cy="248.9" rx="6.3" ry="4.2" fill="#dcdddd" stroke="#000" stroke-width="1.5"/>
<path d="M1365.9 248.3 Q1369.4 246.3 1372.9 248.8" fill="none" stroke="#555" stroke-width="0.9"/>
<path d="M1361.1 319.5 V326.9 A8.3 4 0 0 0 1377.7 326.9 V319.5 Z" fill="#dcdddd" stroke="#000" stroke-width="1.5"/>
<path d="M1361.4 262.4 V322.5 A8 3 0 0 0 1377.4 322.5 V262.4 Z" fill="#0a0a0a" stroke="#000" stroke-width="1.2"/>
<path d="M1364.4 264.9 Q1369.4 265.9 1374.4 264.9 M1364.4 267.2 Q1369.4 268.2 1374.4 267.2 M1364.4 269.6 Q1369.4 270.6 1374.4 269.6 M1364.4 272.0 Q1369.4 273.0 1374.4 272.0 M1364.4 274.3 Q1369.4 275.3 1374.4 274.3 M1364.4 276.7 Q1369.4 277.7 1374.4 276.7 M1364.4 279.0 Q1369.4 280.0 1374.4 279.0 M1364.4 281.4 Q1369.4 282.4 1374.4 281.4 M1364.4 283.7 Q1369.4 284.7 1374.4 283.7 M1364.4 286.1 Q1369.4 287.1 1374.4 286.1 M1364.4 288.4 Q1369.4 289.4 1374.4 288.4 M1364.4 290.8 Q1369.4 291.8 1374.4 290.8 M1364.4 293.1 Q1369.4 294.1 1374.4 293.1 M1364.4 295.5 Q1369.4 296.5 1374.4 295.5 M1364.4 297.8 Q1369.4 298.8 1374.4 297.8 M1364.4 300.2 Q1369.4 301.2 1374.4 300.2 M1364.4 302.5 Q1369.4 303.5 1374.4 302.5 M1364.4 304.9 Q1369.4 305.9 1374.4 304.9 M1364.4 307.2 Q1369.4 308.2 1374.4 307.2 M1364.4 309.6 Q1369.4 310.6 1374.4 309.6 M1364.4 311.9 Q1369.4 312.9 1374.4 311.9 M1364.4 314.3 Q1369.4 315.3 1374.4 314.3 M1364.4 316.6 Q1369.4 317.6 1374.4 316.6 M1364.4 319.0 Q1369.4 320.0 1374.4 319.0 M1364.4 321.3 Q1369.4 322.3 1374.4 321.3" fill="none" stroke="#555" stroke-width="0.6"/>
<path d="M1170 313.2 Q1177 315 1181.9 319.7 M1173 326.6 Q1177 331 1181.9 333.3" fill="none" stroke="#7a7a7a" stroke-width="1.1"/>
</g>
<g id="callout">
<path d="M662 35 L879.4 35 L879.4 290.4 L842.2 290.4 L882.7 643.3 L804.6 290.4 L624.3 290.4 L624.3 72" fill="#fff" stroke="#000" stroke-width="2.8" stroke-linejoin="miter"/>
<defs>
<clipPath id="backclip"><path d="M665.4 107.8 A88.2 52.8 0 0 1 841.8 107.8 L841.8 138.8 A88.2 52.8 0 0 0 665.4 138.8 Z"/></clipPath>
<clipPath id="frontL"><rect x="660" y="100" width="49.5" height="100"/></clipPath>
<clipPath id="frontR"><rect x="793" y="100" width="55" height="100"/></clipPath>
</defs>
<g clip-path="url(#backclip)" fill="#000"><rect x="663" y="40" width="13.2" height="110"/><rect x="686.4" y="40" width="14.5" height="110"/><rect x="710.7" y="40" width="14.1" height="110"/><rect x="735.1" y="40" width="13.8" height="110"/><rect x="759.1" y="40" width="13.9" height="110"/><rect x="783.2" y="40" width="14.3" height="110"/><rect x="807.7" y="40" width="14.0" height="110"/><rect x="831.7" y="40" width="12.3" height="110"/></g>
<!-- base cylinder -->
<path d="M706.1 201 V244.2 A47.3 28 0 0 0 800.7 244.2 V201" fill="#fff" stroke="#000" stroke-width="1.6"/>
<path d="M706.1 201 A47.3 28 0 0 0 800.7 201" fill="none" stroke="#000" stroke-width="1.4"/>
<path d="M708 205 A45.5 24 0 0 0 799 205" fill="none" stroke="#000" stroke-width="1.2"/>
<path d="M706.5 247 A47 25 0 0 0 800.3 247" fill="none" stroke="#000" stroke-width="1"/>
<!-- shaft -->
<path d="M736 176 V200 A17.4 11 0 0 0 770.7 200 V176" fill="#fff" stroke="#000" stroke-width="1.4"/>
<!-- spring -->
<g fill="none" stroke="#000" stroke-width="5.2"><path d="M712 159.4 A41 14 0 0 0 794 159.4"/><path d="M712 173.3 A41 14 0 0 0 794 173.3"/><path d="M712 187.2 A41 14 0 0 0 794 187.2"/><path d="M712 200.8 A41 14 0 0 0 794 200.8"/></g>
<g fill="none" stroke="#fff" stroke-width="2.4"><path d="M712 159.4 A41 14 0 0 0 794 159.4"/><path d="M712 173.3 A41 14 0 0 0 794 173.3"/><path d="M712 187.2 A41 14 0 0 0 794 187.2"/><path d="M712 200.8 A41 14 0 0 0 794 200.8"/></g>
<path d="M771 171 L792 160 M771 182 L792 172 M771 195 L792 186" stroke="#000" stroke-width="1.2"/>
<!-- front band -->
<g clip-path="url(#frontL)">
<path d="M665.4 107.8 A88.2 52.8 0 0 0 841.8 107.8 L841.8 138.8 A88.2 52.8 0 0 1 665.4 138.8 Z" fill="#000"/>
</g>
<path d="M709.5 140 L736.9 172.1 L709.5 193 Z" fill="#000" stroke="#fff" stroke-width="2"/>
<g clip-path="url(#frontR)">
<path d="M665.4 107.8 A88.2 52.8 0 0 0 841.8 107.8 L841.8 138.8 A88.2 52.8 0 0 1 665.4 138.8 Z" fill="#000"/>
</g>
<path d="M792.5 150 V190" stroke="#fff" stroke-width="2.2"/>
<path d="M662 123 L679 109.5 M845 123 L828 109.5" stroke="#fff" stroke-width="2.6"/>
<!-- head -->
<path d="M705.5 117.4 V135.5 A48 24 0 0 0 801.5 135.5 V117.4 Z" fill="#dcdddd" stroke="#fff" stroke-width="3"/>
<path d="M705.5 117.4 V135.5 A48 24 0 0 0 801.5 135.5 V117.4 Z" fill="#dcdddd" stroke="#000" stroke-width="2"/>
<path d="M706.0 122.0 V136.5 M707.2 125.1 V139.6 M709.3 128.1 V142.6 M712.0 130.9 V145.4 M715.5 133.5 V148.0 M719.7 135.9 V150.4 M724.4 137.9 V152.4 M729.6 139.7 V154.2 M735.2 141.1 V155.6 M741.2 142.1 V156.6 M747.3 142.7 V157.2 M753.6 142.9 V157.4 M759.9 142.7 V157.2 M766.0 142.1 V156.6 M772.0 141.1 V155.6 M777.6 139.7 V154.2 M782.8 137.9 V152.4 M787.5 135.9 V150.4 M791.7 133.5 V148.0 M795.2 130.9 V145.4 M797.9 128.1 V142.6 M800.0 125.1 V139.6 M801.2 122.0 V136.5" stroke="#000" stroke-width="1.1" fill="none"/>
<ellipse cx="753.5" cy="117.4" rx="48" ry="24" fill="#dcdddd" stroke="#000" stroke-width="2.2"/>
<ellipse cx="752.8" cy="118.5" rx="40.4" ry="22.6" fill="#dcdddd" stroke="#000" stroke-width="1.2"/>
<path d="M753.4 111.3 C757 109.5 762 107 766 106.6 C770 106.3 773.5 108 772.4 110.5 C771.5 113 766 115.5 763.3 117.8 C766 120 771.5 122.5 772 125.3 C772.5 128 769 129.3 765.5 128.8 C761 128 756.5 126 753.4 124.6 C750.3 126 745.8 128 741.3 128.8 C737.8 129.3 734.3 128 734.8 125.3 C735.3 122.5 740.8 120 743.5 117.8 C740.8 115.5 735.3 113 734.4 110.5 C733.3 108 736.8 106.3 740.8 106.6 C744.8 107 749.8 109.5 753.4 111.3 Z" fill="#dcdddd" stroke="#000" stroke-width="1.3" stroke-linejoin="round"/>
</g>
<g id="inset">
<rect x="2.4" y="363.2" width="751.9" height="876.8" fill="#fff" stroke="none"/>
<g fill="none" stroke="#000" stroke-width="1.6" stroke-linejoin="round">
<!-- left vertical lines -->
<path d="M75.4 1240 V580.7 H88.2"/>
<path d="M88.2 1240 V464"/>
<path d="M75.4 600 C72.5 600 70.2 604 70.2 609.2 V642.7 C70.2 648 72.5 652.4 75.4 652.4"/>
<rect x="49.6" y="609.7" width="20.6" height="33"/>
<path d="M88.2 679.1 C88.2 684 92 687.7 96.8 687.7 M96.8 679.1 V704 C96.8 713 99 721 102 728.3 L95.6 731.9 L109.9 761.1 C112.5 767 114.5 775 114.5 784 V1240"/>
<!-- hook -->
<path d="M88.1 487.2 H81.7 V464 A6.4 6.4 0 0 1 94.6 464 V496.9"/>
<!-- tab -->
<path d="M94.6 464.5 C99 465.5 105.1 462 105.1 456.6 V439.6 A24.4 24.4 0 0 1 129.5 415 H162.4 A30 30 0 0 1 182.5 423.5 V456 A41 41 0 0 1 141.6 496.9 H88.2"/>
<!-- slot -->
<path d="M182.5 413.5 H293.6 C306 413.5 318 420 328.8 429.6 H671.5 V600.6"/>
<path d="M182.5 421 H293.6 V430.4 A13 13 0 0 1 280.6 443.4 H195.5 A13 13 0 0 1 182.5 430.4"/>
<!-- inner plate outline -->
<path d="M328.8 429.6 C345 446 365 458 402.7 463.3 H615.8 V470 C620 470 623.8 473 623.8 478 V537.7 C623.8 548 613.3 555 613.3 566.5 A33.7 34.1 0 0 0 647 600.6 H671.5 C681 600.6 689.2 607 689.2 617 V1182 A24.6 24.7 0 0 1 664.6 1206.7 H549.5 C540 1206.7 532.7 1214 532.7 1222.6 V1240"/>
<path d="M671.5 1206.7 V1240"/>
<!-- big cutout -->
<path d="M292.3 589.6 H557.5 A46.7 47 0 0 1 604.2 636.6 V913 C604.2 930 598 942 581.3 951.8 L512.8 991.5 C497 1001 489 1015 489 1035.1 V1240"/>
<path d="M239.8 595.8 C222 605 214.2 620 214.2 640 V778.7 C214.2 798 222 811 236.1 819 L264.2 835.4"/>
<path d="M264.2 835.4 L269.8 829.2 H318.5 A16.9 16 0 0 1 335.4 845.2 V957.8 A16 16.2 0 0 1 319.4 974 H264.9 C252 974 242 968 236.1 957.8 L222.5 934 C219.5 928 219.5 916 221.1 910.7 L269.8 829.2"/>
<path d="M316.5 974.6 C312 984 305 988 297.6 992.5 L237.1 1027.2 C222 1036 214.3 1050 214.3 1068.9 V1240"/>
<!-- circles -->
<circle cx="264.2" cy="572" r="33.2"/>
<circle cx="170.5" cy="738" r="21"/>
<circle cx="531" cy="707.3" r="35.2"/>
<circle cx="630.5" cy="1030.8" r="35.1"/>
</g>
<!-- screw -->
<g fill="none" stroke="#000">
<circle cx="141.6" cy="455.9" r="24.3" stroke-width="1.8"/>
<circle cx="141.6" cy="455.9" r="23" stroke-width="1.6" stroke-dasharray="1.2 1.1"/>
<circle cx="141.6" cy="455.9" r="21.1" stroke-width="1.4"/>
<path stroke-width="1.3" d="M138.5 444.2 H144.7 Q146 444.2 146 445.5 V452.7 H153 Q154 452.7 154 454 V458.2 Q154 459.2 153 459.2 H146 V466.5 Q146 467.6 144.7 467.6 H138.5 Q137.4 467.6 137.4 466.5 V459.2 H130.3 Q129.3 459.2 129.3 458.2 V454 Q129.3 452.7 130.3 452.7 H137.4 V445.5 Q137.4 444.2 138.5 444.2 Z"/>
<path stroke-width="1.1" d="M141.6 449.5 Q142.5 454.3 147.6 455.9 Q142.5 457.5 141.6 462.3 Q140.7 457.5 135.6 455.9 Q140.7 454.3 141.6 449.5 Z"/>
</g>
<!-- text -->
<text x="112.5" y="527.8" font-size="30.2" fill="#000"><tspan font-weight="bold">A</tspan> = CX7 NDR400</text>
<text x="374.2" y="527.5" font-size="30.2" fill="#b3b3b3"><tspan font-weight="bold">B</tspan> = CX7 NDR200</text>
<g font-size="39.5">
<text x="166.5" y="896.3" fill="#b3b3b3">B</text>
<path d="M200.1 869 L224.8 883 L200.1 897 Z" fill="#b3b3b3"/>
<text x="150.8" y="937.5" fill="#000">A</text>
<path d="M186 909.8 L210.2 923.6 L186 937.5 Z" fill="#000"/>
<path d="M642.1 693.3 L617.7 707.3 L642.1 721.3 Z" fill="#000"/>
<text x="647" y="721.2" fill="#000">A</text>
<text x="527.4" y="1044.7" fill="#000">A</text>
<path d="M562 1017.3 L586.6 1031 L562 1044.7 Z" fill="#000"/>
<text x="622.3" y="1163.7" fill="#b3b3b3">B</text>
<path d="M620.3 1172 L648.7 1172 L634.5 1196.8 Z" fill="#b3b3b3"/>
</g>
<rect x="2.4" y="363.2" width="751.9" height="876.8" fill="none" stroke="#000" stroke-width="3"/>
</g>
<g id="circles">
<circle cx="627" cy="36.3" r="32.3" fill="#697ed3"/>
<path d="M626.1 17.75 H631.8 V52.8 H624.8 V30 H615.9 V24.9 C620 24.9 624.5 22.5 626.1 17.75 Z" fill="#fff"/>
<circle cx="1267.9" cy="259.6" r="31.6" fill="#697ed3"/>
<text transform="translate(1267.2 277.3) scale(1.07 1)" x="0" y="0" font-size="51.5" font-weight="bold" fill="#fff" text-anchor="middle">2</text>
</g>
</svg>
</body></html>
